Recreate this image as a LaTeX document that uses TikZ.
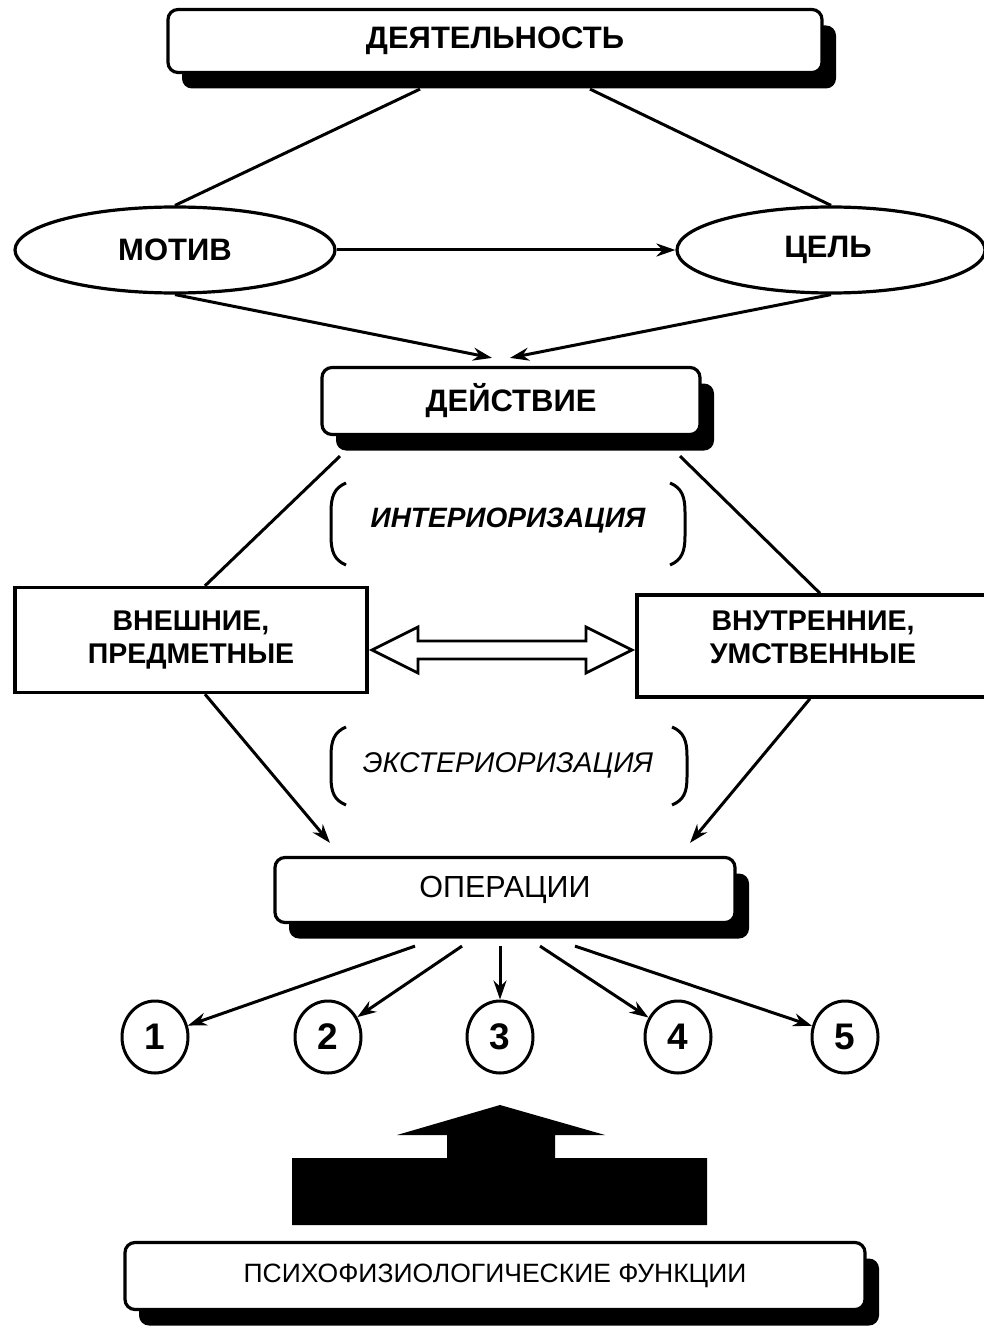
\documentclass[tikz,border=0pt]{standalone}
\usepackage{fontspec}
\setmainfont{Liberation Sans}
\usetikzlibrary{shapes.geometric,arrows.meta,calc,shadows}
\begin{document}
\begin{tikzpicture}[x=1pt,y=-1pt,
  line width=3pt,
  arr/.style={-{Stealth[length=19pt,width=13pt]}},
  rbox/.style={draw, line width=3.2pt, rounded corners=10pt, fill=white, align=center, inner sep=0pt,
    drop shadow={shadow xshift=14pt, shadow yshift=-16pt, fill=black, opacity=1}},
  sbox/.style={draw, line width=3.4pt, fill=white, align=center, inner sep=0pt},
  ell/.style={draw, ellipse, line width=3.2pt, inner sep=0pt, fill=white},
  num/.style={draw, ellipse, line width=3pt, inner sep=0pt, minimum width=66pt, minimum height=72pt, font=\bfseries\fontsize{37}{38}\selectfont},
  bigb/.style={font=\bfseries\fontsize{31}{32}\selectfont},
  twol/.style={font=\bfseries\fontsize{28.5}{33}\selectfont},
  reg/.style={font=\fontsize{30.5}{31}\selectfont},
  brk/.style={line width=3pt}
]
\useasboundingbox (0,0) rectangle (984,1329);

% nodes
\node[rbox, bigb, minimum width=654pt, minimum height=63pt] (act) at (495,41) {ДЕЯТЕЛЬНОСТЬ};
\node[ell, bigb, minimum width=320pt, minimum height=86pt] (motiv) at (175,250) {МОТИВ};
\node[ell, bigb, minimum width=308pt, minimum height=86pt] (cel) at (831,250) {\hspace*{-6pt}ЦЕЛЬ};
\node[rbox, bigb, minimum width=378pt, minimum height=67pt] (deyst) at (511,401) {ДЕЙСТВИЕ};
\node[font=\bfseries\itshape\fontsize{28}{29}\selectfont] (inter) at (508,521) {ИНТЕРИОРИЗАЦИЯ};
\node[sbox, twol, minimum width=352pt, minimum height=105pt] (vnesh) at (191,640) {ВНЕШНИЕ,\\ПРЕДМЕТНЫЕ};
\node[sbox, minimum width=352pt, minimum height=102pt,
  label={[twol, align=center, yshift=9pt]center:{ВНУТРЕННИЕ,\\УМСТВЕННЫЕ}}] (vnutr) at (813,646) {};
\node[font=\itshape\fontsize{28.5}{29}\selectfont] (ext) at (508,765) {ЭКСТЕРИОРИЗАЦИЯ};
\node[rbox, reg, minimum width=460pt, minimum height=65pt] (oper) at (505,890) {ОПЕРАЦИИ};
\node[num] (c1) at (155,1037) {1};
\node[num] (c2) at (328,1037) {2};
\node[num] (c3) at (500,1037) {3};
\node[num] (c4) at (678,1037) {4};
\node[num] (c5) at (845,1037) {5};
\node[rbox, font=\fontsize{26.5}{27}\selectfont, minimum width=740pt, minimum height=67pt] (psy) at (495,1276) {ПСИХОФИЗИОЛОГИЧЕСКИЕ ФУНКЦИИ};

% connectors
\draw ($(act.south)+(-75,15)$) -- (motiv.north);
\draw ($(act.south)+(95,15)$) -- (cel.north);
\draw[arr] (motiv.east) -- (cel.west);
\draw[arr] (motiv.south) -- ($(deyst.north)+(-19,-8)$);
\draw[arr] (cel.south) -- ($(deyst.north)+(-1,-8)$);
\draw ($(deyst.south)+(-171,20)$) -- ($(vnesh.north)+(14,0)$);
\draw ($(deyst.south)+(169,20)$) -- ($(vnutr.north)+(7,0)$);
\draw[arr] ($(vnesh.south)+(14,0)$) -- ($(oper.north)+(-175,-13)$);
\draw[arr] ($(vnutr.south)+(-3,0)$) -- ($(oper.north)+(185,-13)$);
\draw[arr] ($(oper.south)+(-90,22)$) -- (c1);
\draw[arr] ($(oper.south)+(-43,22)$) -- (c2);
\draw[arr] ($(oper.south)+(-5,22)$) -- (c3);
\draw[arr] ($(oper.south)+(35,22)$) -- (c4);
\draw[arr] ($(oper.south)+(70,22)$) -- (c5);

% hollow double arrow
\draw[line width=2.8pt, fill=white, line join=miter]
  (372,650) -- (418,627) -- (418,641) -- (586,641) -- (586,627) -- (632,650)
  -- (586,673) -- (586,659) -- (418,659) -- (418,673) -- cycle;

% brackets
\draw[brk] (346,483) .. controls (334,488) and (331,497) .. (331,512) -- (331,536) .. controls (331,551) and (334,560) .. (346,565);
\draw[brk] (670,483) .. controls (682,488) and (685,497) .. (685,512) -- (685,536) .. controls (685,551) and (682,560) .. (670,565);
\draw[brk] (346,727) .. controls (334,732) and (331,741) .. (331,756) -- (331,777) .. controls (331,792) and (334,800) .. (346,805);
\draw[brk] (672,727) .. controls (684,732) and (687,741) .. (687,756) -- (687,777) .. controls (687,792) and (684,800) .. (672,805);

% big black arrow
\fill (292,1158) -- (447,1158) -- (447,1135) -- (397,1135) -- (500,1105) -- (605,1135)
  -- (555,1135) -- (555,1158) -- (707,1158) -- (707,1225) -- (292,1225) -- cycle;
\end{tikzpicture}
\end{document}
